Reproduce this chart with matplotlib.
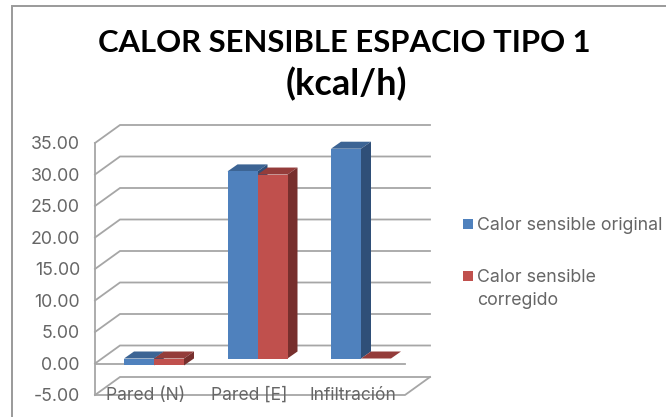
import matplotlib
matplotlib.use("Agg")
import matplotlib.pyplot as plt
from matplotlib.patches import Polygon

categories = ["Pared (N)", "Pared [E]", "Infiltración"]
original = [-1.1, 29.7, 33.3]
corregido = [-1.1, 29.2, 0.0]
y_ticks = [-5, 0, 5, 10, 15, 20, 25, 30, 35]
series_names = ["Calor sensible original", "Calor sensible\ncorregido"]

W, H = 666, 417
FONT = ["Inter", "DejaVu Sans"]
TITLE_FONT = ["Lato", "DejaVu Sans"]
GRID = "#a6a6a6"
TEXT = "#666666"

fig = plt.figure(figsize=(W / 100, H / 100), dpi=100)
fig.patch.set_facecolor("white")

# Chart frame
frame = fig.add_axes([0, 0, 1, 1])
frame.set_xlim(0, W)
frame.set_ylim(H, 0)
frame.axis("off")
frame.plot([12, 12, W], [H, 6, 6], color="#9a9a9a", lw=1.4, solid_joinstyle="miter")
frame.text(344, 43, "CALOR SENSIBLE ESPACIO TIPO 1", ha="center", va="center",
           fontsize=22.3, fontweight="bold", family=TITLE_FONT, color="black")
frame.text(346, 84, "(kcal/h)", ha="center", va="center",
           fontsize=26, fontweight="bold", family=TITLE_FONT, color="black")

# Plot area: value scale and category scale in the front plane
px_left, px_right, px_bottom, px_top = 95, 430, 395, 125
px_per_unit = 6.3
cat_step = 103.5
cat_origin = 154
ax = fig.add_axes([px_left / W, 1 - px_bottom / H,
                   (px_right - px_left) / W, (px_bottom - px_top) / H])
ax.set_xlim((px_left - cat_origin) / cat_step, (px_right - cat_origin) / cat_step)
ax.set_ylim(-5, -5 + (px_bottom - px_top) / px_per_unit)
ax.axis("off")

# Oblique projection offsets, in data units
wall_dx, wall_dy = 25 / cat_step, 18 / px_per_unit
bar_shift_dy = 5 / px_per_unit
bar_dx, bar_dy = 10 / cat_step, 7 / px_per_unit
bar_w = 30 / cat_step
x_front_l = ax.get_xlim()[0]
x_front_r = x_front_l + 310 / cat_step

for v in y_ticks:
    ax.plot([x_front_l, x_front_l + wall_dx, x_front_l + wall_dx + 310 / cat_step],
            [v, v + wall_dy, v + wall_dy], color=GRID, lw=1.3, solid_joinstyle="miter",
            zorder=1, clip_on=False)
    ax.text(x_front_l - 15 / cat_step, v - 0.3, f"{v:.2f}", ha="right", va="center",
            fontsize=12.8, family=FONT, color=TEXT)

ax.plot([x_front_l, x_front_l], [-5, 35], color=GRID, lw=1.3, zorder=1, clip_on=False)
ax.plot([x_front_l, x_front_r], [0, 0], color=GRID, lw=1.3, zorder=1)
ax.plot([x_front_l, x_front_r, x_front_r + wall_dx], [-5, -5, -5 + wall_dy],
        color=GRID, lw=1.3, zorder=1, clip_on=False)


def draw_bar(x_left, value, front, top, side):
    """Front face through ax.bar, plus the oblique top and side faces."""
    base = bar_shift_dy
    x_right = x_left + bar_w
    upper = base + max(value, 0)
    lower = base + min(value, 0)
    ax.add_patch(Polygon([(x_left, upper), (x_right, upper),
                          (x_right + bar_dx, upper + bar_dy), (x_left + bar_dx, upper + bar_dy)],
                         closed=True, fc=top, ec="none", zorder=3))
    ax.add_patch(Polygon([(x_right, upper), (x_right + bar_dx, upper + bar_dy),
                          (x_right + bar_dx, lower + bar_dy), (x_right, lower)],
                         closed=True, fc=side, ec="none", zorder=3))
    ax.bar(x_left, value, width=bar_w, bottom=base, align="edge", color=front, zorder=4)


series_style = [("#4f81bd", "#3c6494", "#2f4f78"), ("#c0504d", "#943c3a", "#772f2d")]
for i in range(len(categories)):
    draw_bar(i - bar_w, original[i], *series_style[0])
    draw_bar(i, corregido[i], *series_style[1])
    ax.text(i - 8 / cat_step, -5.1, categories[i], ha="center", va="center",
            fontsize=12.6, family=FONT, color=TEXT, zorder=5)

# Legend
for (px_y, name, colour) in [(224, series_names[0], series_style[0][0]),
                             (276, series_names[1], series_style[1][0])]:
    frame.add_patch(plt.Rectangle((463, px_y - 5), 10, 10, fc=colour, ec="none"))
    frame.text(477, px_y - 7, name, ha="left", va="top", fontsize=12.8,
               family=FONT, color=TEXT, linespacing=1.43)

fig.savefig("out.png", dpi=100)
